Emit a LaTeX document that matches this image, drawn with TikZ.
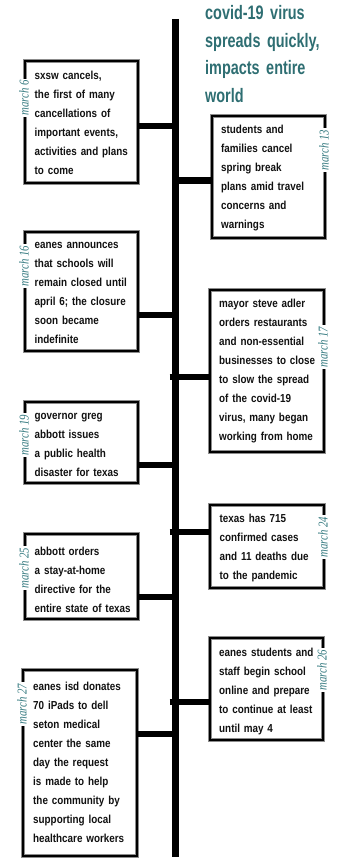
\documentclass[tikz,border=0pt]{standalone}
\usepackage{fontspec}
\newfontfamily\bodyfont[FakeStretch=0.85]{Liberation Sans}
\newfontfamily\titlefont[FakeStretch=0.74]{Liberation Sans}
\newfontfamily\datefont[FakeStretch=0.8]{Liberation Serif}
\definecolor{tealtitle}{HTML}{2E6E72}
\definecolor{teallabel}{HTML}{357A80}
\definecolor{shade}{HTML}{8C8C8C}
\definecolor{ink}{HTML}{111111}
\begin{document}
\begin{tikzpicture}[x=1pt,y=-1pt,
  evbox/.style={draw=black, line width=2pt, anchor=north west, inner sep=0pt, outer sep=0pt,
    preaction={draw=shade, line width=3.4pt}},
  evtext/.style={anchor=base west, inner sep=0pt, text width=120pt, align=left, text=ink,
    font={\bodyfont\bfseries\fontsize{11.6}{19}\selectfont}},
  datelabel/.style={rotate=90, anchor=base, fill=white, inner sep=1.5pt, text=teallabel,
    font={\datefont\itshape\fontsize{13.5}{14}\selectfont}},
  spine/.style={line width=7pt, black},
  conn/.style={line width=6.5pt, black}]
\useasboundingbox (0,0) rectangle (337,859);

% spine
\coordinate (sT) at (175,19);
\coordinate (sB) at (175,857);
\draw[spine] (sT) -- (sB);

% title
\node[anchor=base west, inner sep=0pt, text width=135pt, align=left, text=tealtitle,
  font={\titlefont\bfseries\fontsize{19.5}{27.8}\selectfont}] (title) at (205,19.3)
  {covid-19 virus\\spreads quickly,\\impacts entire\\world};

% junction points on the spine
\coordinate (j1) at (175,126);
\coordinate (j2) at (175,180.5);
\coordinate (j3) at (175,315);
\coordinate (j4) at (169.5,377);
\coordinate (j5) at (175,465);
\coordinate (j6) at (169.5,532);
\coordinate (j7) at (175,597);
\coordinate (j8) at (169.5,702);
\coordinate (j9) at (175,734);

% boxes
\node[evbox, minimum width=113pt, minimum height=122pt] (b1) at (25,61) {};
\node[evbox, minimum width=113pt, minimum height=122pt] (b2) at (212,116) {};
\node[evbox, minimum width=113pt, minimum height=119pt] (b3) at (25,232) {};
\node[evbox, minimum width=114pt, minimum height=162pt] (b4) at (210,290) {};
\node[evbox, minimum width=113pt, minimum height=81pt] (b5) at (25,402) {};
\node[evbox, minimum width=114pt, minimum height=83pt] (b6) at (210,505) {};
\node[evbox, minimum width=113pt, minimum height=85pt] (b7) at (25,534) {};
\node[evbox, minimum width=113pt, minimum height=102pt] (b8) at (210,638) {};
\node[evbox, minimum width=114pt, minimum height=186pt] (b9) at (23,670) {};

% connectors
\draw[conn] (b1.east |- j1) -- (j1);
\draw[conn] (j2) -- (b2.west |- j2);
\draw[conn] (b3.east |- j3) -- (j3);
\draw[conn] (j4) -- (b4.west |- j4);
\draw[conn] (b5.east |- j5) -- (j5);
\draw[conn] (j6) -- (b6.west |- j6);
\draw[conn] (b7.east |- j7) -- (j7);
\draw[conn] (j8) -- (b8.west |- j8);
\draw[conn] (b9.east |- j9) -- (j9);

% texts
\node[evtext] (t1) at (34.5,80) {sxsw cancels,\\the first of many\\cancellations of\\important events,\\activities and plans\\to come};
\node[evtext] (t2) at (221,133.3) {students and\\families cancel\\spring break\\plans amid travel\\concerns and\\warnings};
\node[evtext] (t3) at (34.5,248.3) {eanes announces\\that schools will\\remain closed until\\april 6; the closure\\soon became\\indefinite};
\node[evtext] (t4) at (219,307.3) {mayor steve adler\\orders restaurants\\and non-essential\\businesses to close\\to slow the spread\\of the covid-19\\virus, many began\\working from home};
\node[evtext] (t5) at (34.5,419.3) {governor greg\\abbott issues\\a public health\\disaster for texas};
\node[evtext] (t6) at (219.5,522.3) {texas has 715\\confirmed cases\\and 11 deaths due\\to the pandemic};
\node[evtext] (t7) at (34.5,555) {abbott orders\\a stay-at-home\\directive for the\\entire state of texas};
\node[evtext] (t8) at (219,656) {eanes students and\\staff begin school\\online and prepare\\to continue at least\\until may 4};
\node[evtext] (t9) at (33,690.7) {eanes isd donates\\70 iPads to dell\\seton medical\\center the same\\day the request\\is made to help\\the community by\\supporting local\\healthcare workers};

% date labels
\node[datelabel] (l1) at (28.5,98) {march 6};
\node[datelabel] (l2) at (328.5,150) {march 13};
\node[datelabel] (l3) at (28.5,266) {march 16};
\node[datelabel] (l4) at (327.5,347) {march 17};
\node[datelabel] (l5) at (28.5,435) {march 19};
\node[datelabel] (l6) at (327.5,537) {march 24};
\node[datelabel] (l7) at (28.5,568) {march 25};
\node[datelabel] (l8) at (326.5,670) {march 26};
\node[datelabel] (l9) at (26.5,704) {march 27};
\end{tikzpicture}
\end{document}
